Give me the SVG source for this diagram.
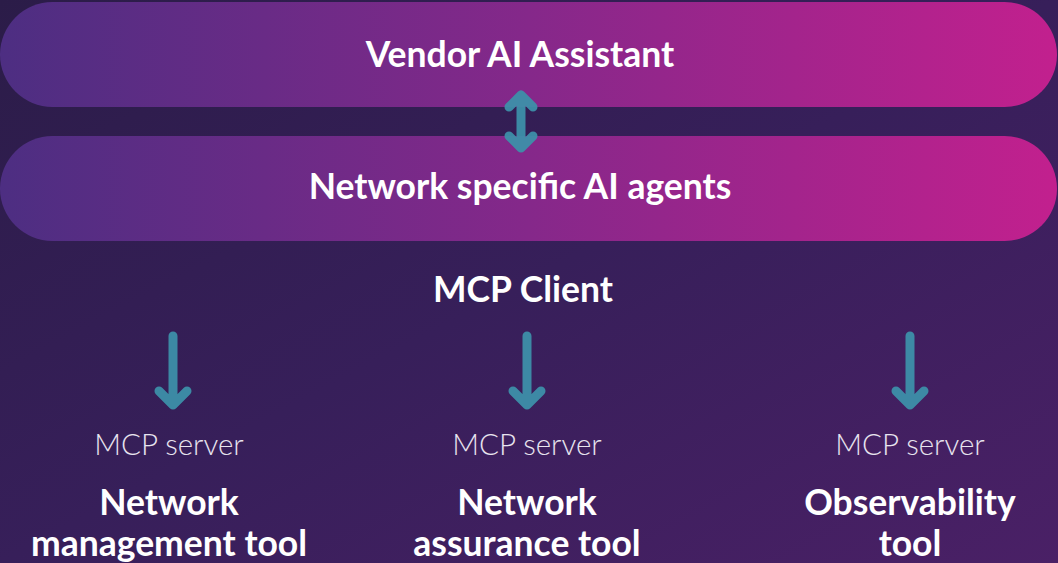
<svg xmlns="http://www.w3.org/2000/svg" width="1058" height="563" viewBox="0 0 1058 563">
<defs>
<linearGradient id="bg" x1="0" y1="0" x2="1" y2="1">
<stop offset="0" stop-color="#2b1c48"/>
<stop offset="0.5" stop-color="#371f5a"/>
<stop offset="1" stop-color="#4a2066"/>
</linearGradient>
<linearGradient id="pill" x1="0" y1="0" x2="1" y2="0">
<stop offset="0" stop-color="#4d2e82"/>
<stop offset="0.5" stop-color="#85288a"/>
<stop offset="1" stop-color="#c2208e"/>
</linearGradient>
<style>
.t{font-family:Lato,"Noto Sans",sans-serif;fill:#ffffff;text-anchor:middle}
.b{font-weight:700;font-size:35.5px}
.s{font-weight:300;font-size:29.5px;fill:#e8e4ef}
.arr{fill:none;stroke:#3d8fa9;stroke-width:9;stroke-linecap:round;stroke-linejoin:round;opacity:0.95}
</style>
</defs>
<rect width="1058" height="563" fill="url(#bg)"/>
<g id="vendor-ai-assistant">
<rect x="0" y="2" width="1057" height="105" rx="52.5" fill="url(#pill)"/>
<text class="t b" x="520" y="67">Vendor AI Assistant</text>
</g>
<g id="network-ai-agents">
<rect x="0" y="136" width="1057" height="105" rx="52.5" fill="url(#pill)"/>
<text class="t b" x="520" y="199">Network specific AI agents</text>
</g>
<g id="mcp-client">
<text class="t b" x="523" y="302">MCP Client</text>
</g>
<g id="connectors">
<path class="arr" d="M521,95 V148 M509,107 L521,95 L533,107 M509,136 L521,148 L533,136"/>
<path class="arr" d="M173,336 V405 M159,391 L173,405 L187,391"/>
<path class="arr" d="M527,336 V405 M513,391 L527,405 L541,391"/>
<path class="arr" d="M910,336 V405 M896,391 L910,405 L924,391"/>
</g>
<g id="network-management-tool">
<text class="t s" x="169" y="455">MCP server</text>
<text class="t b" x="169" y="515">Network</text>
<text class="t b" x="169" y="556">management tool</text>
</g>
<g id="network-assurance-tool">
<text class="t s" x="527" y="455">MCP server</text>
<text class="t b" x="527" y="515">Network</text>
<text class="t b" x="527" y="556">assurance tool</text>
</g>
<g id="observability-tool">
<text class="t s" x="910" y="455">MCP server</text>
<text class="t b" x="910" y="515">Observability</text>
<text class="t b" x="910" y="556">tool</text>
</g>
</svg>
